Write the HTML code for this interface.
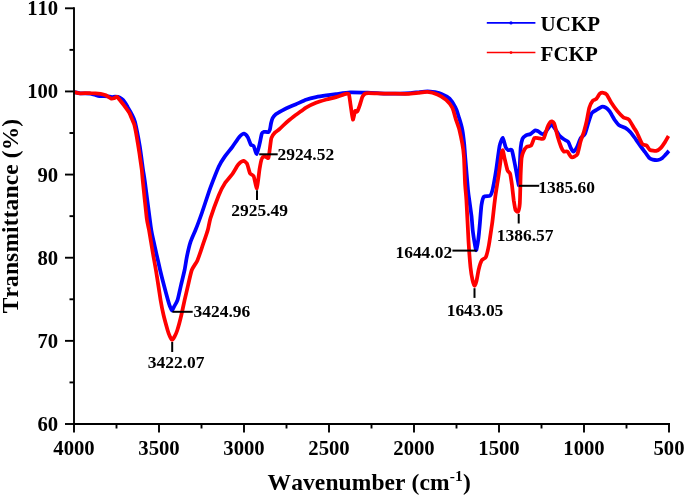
<!DOCTYPE html>
<html><head><meta charset="utf-8"><title>FTIR</title>
<style>
html,body{margin:0;padding:0;background:#fff;}
svg{display:block;font-family:"Liberation Serif",serif;font-weight:bold;fill:#000;font-kerning:none;}
.ax line{stroke:#000;stroke-width:1.9;stroke-linecap:butt;}
.tl text{font-size:20.7px;}
.an text{font-size:17.45px;}
.an line{stroke:#000;stroke-width:2;}
.cv path{fill:none;stroke-width:3.75;stroke-linejoin:round;stroke-linecap:butt;}
</style></head><body>
<svg width="685" height="496" viewBox="0 0 685 496">
<rect width="685" height="496" fill="#fff"/>
<g class="cv">
<path d="M74.1 92.1 C74.7 92.2 78.6 93.1 80.2 93.3 C81.8 93.5 88.8 93.4 90.4 93.6 C92.0 93.8 95.1 94.9 96.0 95.2 C96.9 95.5 98.8 96.1 99.6 96.2 C100.4 96.3 103.2 96.0 104.0 96.0 C104.8 96.0 107.2 96.2 108.0 96.3 C108.8 96.4 111.2 97.0 111.9 97.0 C112.6 97.0 114.4 96.6 115.0 96.6 C115.6 96.6 117.3 96.6 118.0 96.8 C118.7 97.0 120.9 98.4 121.6 98.9 C122.3 99.4 124.1 101.2 124.7 102.0 C125.3 102.8 127.0 105.9 127.7 107.1 C128.4 108.3 130.8 112.2 131.5 113.7 C132.2 115.2 134.2 118.7 135.0 122.0 C135.8 125.3 139.0 141.6 139.8 146.3 C140.6 151.1 142.5 166.0 143.0 169.5 C143.5 173.0 144.1 175.8 144.8 181.1 C145.5 186.4 149.5 217.3 150.2 222.2 C150.8 227.1 151.0 228.2 151.3 230.0 C151.6 231.8 152.9 238.1 153.5 240.7 C154.1 243.2 156.1 252.6 156.8 255.5 C157.5 258.4 159.4 267.0 160.1 270.0 C160.8 273.0 163.1 282.1 163.9 285.1 C164.7 288.1 167.4 298.1 168.0 300.2 C168.6 302.3 169.5 305.3 169.9 306.3 C170.3 307.3 171.5 310.6 171.9 310.6 C172.3 310.6 173.7 307.3 174.3 306.3 C174.9 305.3 176.8 302.3 177.5 300.2 C178.2 298.1 180.3 288.1 181.0 285.1 C181.7 282.1 184.0 272.9 184.6 270.0 C185.2 267.1 186.3 259.5 186.9 256.6 C187.5 253.7 189.8 244.1 190.7 241.4 C191.6 238.7 194.3 232.9 195.5 230.0 C196.7 227.1 200.7 216.3 202.2 212.0 C203.7 207.7 208.8 191.8 210.5 187.3 C212.2 182.8 217.3 169.8 218.7 166.7 C220.1 163.6 223.5 158.4 224.9 156.4 C226.3 154.4 230.9 148.8 232.4 146.8 C233.9 144.8 238.5 137.8 239.7 136.5 C240.9 135.2 243.3 133.5 244.1 133.6 C244.9 133.7 247.1 136.1 247.8 137.2 C248.5 138.3 250.2 143.7 250.8 144.6 C251.4 145.5 253.1 145.1 253.7 146.1 C254.3 147.1 256.1 154.4 256.7 154.2 C257.3 154.0 259.1 146.0 259.6 143.9 C260.1 141.8 261.4 134.8 261.8 133.6 C262.2 132.4 263.3 132.0 264.0 131.8 C264.7 131.7 267.8 132.3 268.4 132.1 C269.0 131.9 269.6 130.6 269.9 129.7 C270.2 128.8 270.8 124.2 271.1 123.0 C271.4 121.8 272.1 119.1 272.6 118.2 C273.1 117.3 275.0 115.0 275.9 114.2 C276.8 113.4 280.7 111.3 282.0 110.6 C283.3 109.9 287.9 107.6 289.3 107.0 C290.7 106.4 294.3 104.9 296.0 104.2 C297.7 103.5 304.0 100.4 306.0 99.7 C308.0 99.0 314.0 97.5 316.0 97.1 C318.0 96.7 324.3 95.7 326.3 95.4 C328.3 95.1 333.6 94.4 336.0 94.1 C338.4 93.8 347.0 92.5 350.2 92.4 C353.4 92.3 364.2 92.6 367.7 92.7 C371.2 92.8 381.8 93.5 385.0 93.6 C388.2 93.7 397.5 93.7 400.0 93.7 C402.5 93.7 408.0 93.4 410.0 93.2 C412.0 93.0 418.2 92.2 420.0 92.0 C421.8 91.8 426.0 91.4 427.5 91.4 C429.0 91.4 433.6 92.0 435.0 92.2 C436.4 92.5 440.0 93.3 441.5 93.9 C443.0 94.5 448.2 97.2 449.6 98.6 C451.0 100.0 454.9 106.2 455.8 108.1 C456.8 110.0 458.4 115.7 459.1 117.9 C459.8 120.1 461.9 127.4 462.4 130.0 C462.9 132.6 463.9 141.1 464.2 143.9 C464.5 146.7 464.9 153.4 465.3 158.0 C465.7 162.6 467.6 185.8 468.0 190.0 C468.4 194.2 468.9 197.4 469.3 200.0 C469.7 202.6 471.1 212.9 471.5 216.0 C471.9 219.1 472.4 227.6 472.8 231.0 C473.2 234.4 475.5 249.3 476.0 250.2 C476.5 251.1 477.8 242.8 478.2 240.0 C478.6 237.2 479.7 225.5 480.0 222.0 C480.3 218.5 481.1 207.5 481.5 205.0 C481.9 202.5 483.0 197.6 483.9 196.7 C484.8 195.8 489.1 196.5 490.0 195.8 C490.9 195.1 492.0 192.1 492.6 189.6 C493.2 187.1 495.4 174.8 496.1 170.4 C496.8 166.0 498.9 149.1 499.6 145.8 C500.3 142.6 502.2 137.7 502.8 137.9 C503.4 138.1 505.2 146.3 505.8 147.5 C506.4 148.7 507.8 149.9 508.4 150.2 C509.0 150.5 511.2 148.5 511.9 150.2 C512.6 151.9 514.7 163.3 515.4 166.8 C516.1 170.3 518.5 185.5 518.9 185.3 C519.3 185.1 519.6 168.9 519.8 165.1 C520.0 161.3 520.4 150.1 520.7 147.5 C521.0 144.9 522.0 140.0 522.5 138.8 C523.0 137.6 525.2 135.8 526.0 135.3 C526.8 134.8 529.6 134.5 530.5 134.0 C531.4 133.5 534.1 130.8 534.9 130.5 C535.7 130.2 537.7 131.1 538.4 131.4 C539.1 131.8 541.2 133.9 541.9 134.0 C542.6 134.1 544.6 133.1 545.4 132.3 C546.2 131.5 549.2 126.9 549.8 126.1 C550.4 125.3 551.1 124.1 551.6 124.4 C552.1 124.7 554.3 127.7 555.1 128.8 C555.9 129.9 558.6 134.8 559.5 135.8 C560.4 136.9 563.0 138.7 563.9 139.3 C564.8 139.9 567.5 141.0 568.2 141.9 C568.9 142.8 570.4 147.1 570.9 148.1 C571.4 149.1 572.9 151.7 573.5 151.6 C574.1 151.5 576.3 148.5 577.0 147.2 C577.7 145.9 579.7 139.7 580.5 138.4 C581.3 137.1 584.1 135.6 584.9 134.0 C585.7 132.4 587.7 124.7 588.4 122.6 C589.1 120.5 591.0 114.3 591.9 113.0 C592.8 111.7 596.2 110.1 597.2 109.5 C598.2 108.9 600.7 107.0 601.6 106.8 C602.5 106.6 605.2 107.3 606.0 107.7 C606.8 108.1 608.6 110.0 609.5 111.2 C610.4 112.4 613.7 118.6 614.7 120.0 C615.7 121.4 618.0 124.5 619.1 125.3 C620.2 126.1 624.2 127.2 625.3 127.9 C626.4 128.6 629.5 131.2 630.5 132.3 C631.5 133.4 634.8 138.0 635.8 139.3 C636.8 140.6 639.1 144.2 640.0 145.4 C640.9 146.7 643.9 150.6 644.8 151.8 C645.7 153.1 648.4 157.1 649.2 157.9 C650.0 158.7 651.8 159.4 652.7 159.6 C653.6 159.8 657.0 160.2 658.0 160.0 C659.0 159.8 661.6 158.5 662.4 157.9 C663.2 157.3 665.2 155.1 665.9 154.4 C666.5 153.7 668.6 151.2 668.9 150.9" stroke="#0000ff"/>
<path d="M74.1 92.1 C74.7 92.2 78.6 93.2 80.2 93.3 C81.8 93.4 88.4 93.0 90.4 93.1 C92.5 93.1 99.2 93.6 100.7 93.8 C102.2 94.0 104.8 94.8 105.8 95.3 C106.8 95.8 110.1 98.1 110.9 98.4 C111.7 98.7 113.3 98.4 113.9 98.2 C114.5 98.0 116.4 96.7 117.0 96.9 C117.6 97.1 119.4 99.5 120.1 100.4 C120.8 101.3 123.3 104.3 124.2 105.5 C125.1 106.7 128.5 111.3 129.3 112.7 C130.1 114.1 131.8 118.7 132.3 119.9 C132.8 121.1 133.9 123.0 134.4 125.0 C134.9 127.0 136.8 137.1 137.3 140.2 C137.8 143.3 139.4 153.0 139.8 156.0 C140.2 159.0 141.5 167.5 141.8 170.0 C142.1 172.5 142.3 176.3 142.8 181.1 C143.3 185.9 146.1 213.2 146.7 218.1 C147.3 223.0 148.6 227.7 149.0 230.0 C149.4 232.3 150.4 238.2 150.8 240.7 C151.2 243.2 152.7 252.1 153.2 255.0 C153.7 257.9 155.4 267.0 155.9 270.0 C156.4 273.0 157.8 282.1 158.3 285.1 C158.8 288.1 160.1 297.2 160.6 300.2 C161.1 303.2 162.9 312.3 163.6 315.3 C164.3 318.3 167.1 328.4 167.7 330.5 C168.3 332.6 169.5 335.6 169.9 336.5 C170.3 337.4 171.7 339.9 172.2 339.9 C172.7 339.9 174.1 337.4 174.6 336.5 C175.1 335.6 176.5 332.6 177.2 330.5 C177.9 328.4 180.6 318.3 181.3 315.3 C182.0 312.3 183.9 303.2 184.6 300.2 C185.3 297.2 187.4 288.1 188.1 285.1 C188.8 282.1 190.9 272.5 191.8 270.0 C192.7 267.5 196.4 262.7 197.4 260.4 C198.4 258.1 201.1 250.1 202.1 247.1 C203.1 244.1 207.0 232.9 207.8 230.0 C208.6 227.1 209.4 221.5 210.5 218.1 C211.6 214.7 217.3 199.0 218.7 195.5 C220.1 192.0 223.5 185.3 224.9 183.2 C226.3 181.0 231.1 175.9 232.4 174.0 C233.7 172.1 237.2 165.8 238.3 164.5 C239.4 163.2 242.5 160.9 243.4 160.8 C244.3 160.7 246.4 162.6 247.1 163.8 C247.8 165.1 249.3 172.1 250.0 173.3 C250.7 174.6 253.0 174.8 253.7 176.3 C254.4 177.8 256.3 188.9 256.9 188.2 C257.5 187.5 259.1 171.9 259.6 168.9 C260.1 165.9 261.3 159.8 261.8 158.6 C262.3 157.3 264.1 156.5 264.8 156.4 C265.5 156.3 267.9 158.7 268.4 157.9 C268.9 157.1 269.6 150.3 269.9 148.3 C270.2 146.3 270.9 139.6 271.4 138.0 C271.9 136.4 274.3 133.2 275.1 132.4 C275.9 131.6 278.2 130.2 279.0 129.5 C279.8 128.8 282.2 126.5 283.2 125.5 C284.2 124.5 288.1 121.0 289.3 120.0 C290.5 119.0 294.0 116.1 295.3 115.2 C296.6 114.3 300.9 111.4 302.0 110.6 C303.1 109.8 304.6 108.4 306.0 107.6 C307.4 106.8 314.0 103.6 316.0 102.8 C318.0 102.0 324.3 100.1 326.3 99.5 C328.3 98.9 334.0 97.7 336.0 97.1 C338.0 96.5 345.4 94.0 346.7 93.7 C348.0 93.5 348.6 93.5 349.0 94.6 C349.4 95.7 350.2 102.6 350.6 105.1 C351.0 107.6 352.4 119.0 352.9 119.6 C353.3 120.2 354.7 111.8 355.1 111.0 C355.5 110.2 356.7 112.2 357.2 111.6 C357.7 111.0 359.3 106.6 359.8 105.1 C360.3 103.6 361.9 97.8 362.5 96.6 C363.1 95.4 364.4 93.6 366.0 93.3 C367.6 93.0 375.6 93.4 378.0 93.4 C380.4 93.4 387.1 93.7 390.0 93.7 C392.9 93.7 404.7 93.9 407.5 93.8 C410.3 93.7 416.0 93.0 418.0 92.8 C420.0 92.6 425.6 91.7 427.5 91.9 C429.4 92.1 435.5 93.7 437.4 94.5 C439.3 95.3 444.6 98.5 446.1 99.8 C447.6 101.1 451.3 105.8 452.3 107.7 C453.3 109.6 455.1 116.9 455.8 119.1 C456.5 121.3 458.7 127.1 459.3 129.6 C459.9 132.1 461.8 141.0 462.3 143.7 C462.8 146.4 463.6 152.4 463.9 156.3 C464.2 160.2 464.8 178.2 465.0 182.6 C465.2 187.0 466.0 194.2 466.4 200.0 C466.8 205.8 468.1 234.2 468.5 240.9 C468.9 247.6 470.1 263.5 470.5 267.4 C470.9 271.3 472.1 278.2 472.5 280.0 C472.9 281.8 474.2 285.7 474.6 285.8 C475.0 285.9 476.1 282.6 476.5 281.0 C476.9 279.4 478.2 271.6 478.7 269.5 C479.2 267.4 481.1 261.5 481.8 260.3 C482.5 259.1 485.1 258.7 485.8 257.2 C486.5 255.7 488.3 248.3 488.9 245.0 C489.5 241.7 491.5 227.8 492.0 224.5 C492.5 221.2 493.2 214.8 493.5 212.0 C493.8 209.2 494.8 200.5 495.3 196.7 C495.8 192.9 498.2 178.1 498.8 173.9 C499.4 169.7 501.0 157.0 501.4 154.6 C501.8 152.2 502.4 149.7 502.8 150.2 C503.2 150.7 504.4 157.8 504.9 159.8 C505.4 161.8 507.0 169.0 507.5 170.4 C508.0 171.8 509.8 172.5 510.2 173.9 C510.6 175.3 511.5 181.8 511.9 184.4 C512.2 187.0 513.4 197.7 513.7 200.2 C514.1 202.7 515.0 208.7 515.4 209.8 C515.8 210.9 517.7 212.2 518.1 211.6 C518.5 211.0 519.5 207.5 519.8 203.7 C520.1 199.9 520.5 178.5 520.7 173.9 C520.9 169.3 521.3 160.3 521.6 158.1 C521.9 155.9 522.8 153.0 523.3 151.9 C523.8 150.8 526.0 147.3 526.8 146.7 C527.6 146.1 530.4 146.5 531.2 145.6 C532.0 144.7 533.6 138.7 534.4 138.0 C535.2 137.3 538.4 138.4 539.3 138.4 C540.2 138.4 542.9 139.5 543.7 138.4 C544.5 137.3 546.6 129.5 547.2 127.9 C547.8 126.3 549.3 123.2 549.8 122.6 C550.3 121.9 551.5 121.3 551.9 121.4 C552.3 121.5 553.6 122.0 554.2 123.5 C554.8 125.0 557.0 134.3 557.7 136.7 C558.4 139.1 560.6 145.7 561.2 147.2 C561.8 148.7 563.3 151.2 563.9 151.6 C564.5 152.0 566.7 151.0 567.4 151.5 C568.1 152.0 570.4 156.5 571.1 157.0 C571.8 157.5 574.0 156.8 574.6 156.5 C575.2 156.2 576.9 155.5 577.5 154.0 C578.1 152.5 579.9 144.2 580.5 141.9 C581.1 139.6 583.4 133.5 584.0 131.4 C584.6 129.3 586.2 123.3 586.7 120.9 C587.2 118.5 588.7 109.7 589.3 107.7 C589.9 105.7 592.1 101.6 592.8 100.7 C593.5 99.8 595.6 99.6 596.3 98.9 C597.0 98.2 599.1 94.3 599.8 93.7 C600.5 93.1 602.6 92.7 603.3 92.8 C604.0 92.9 606.0 93.6 606.8 94.6 C607.6 95.6 610.1 100.8 611.2 102.5 C612.3 104.2 616.2 109.7 617.4 111.2 C618.6 112.7 622.4 116.6 623.5 117.4 C624.6 118.2 627.8 118.5 628.8 119.5 C629.8 120.5 633.2 126.6 634.0 127.9 C634.8 129.2 636.1 130.9 636.9 132.5 C637.7 134.1 641.2 142.6 642.2 143.9 C643.2 145.2 645.8 145.0 646.6 145.6 C647.4 146.2 649.1 149.5 650.1 150.0 C651.1 150.5 655.2 151.1 656.2 150.9 C657.2 150.7 659.7 149.1 660.6 148.2 C661.5 147.3 664.2 143.3 665.0 142.1 C665.8 140.9 668.1 136.6 668.5 136.0" stroke="#ff0000"/>
</g>
<g class="ax">
<line x1="74.0" y1="7.300000000000001" x2="74.0" y2="425.0"/>
<line x1="73.0" y1="424.0" x2="670.0" y2="424.0"/>
<line x1="74.00" y1="424.0" x2="74.00" y2="432.5"/>
<line x1="116.50" y1="424.0" x2="116.50" y2="428.5"/>
<line x1="159.00" y1="424.0" x2="159.00" y2="432.5"/>
<line x1="201.50" y1="424.0" x2="201.50" y2="428.5"/>
<line x1="244.00" y1="424.0" x2="244.00" y2="432.5"/>
<line x1="286.50" y1="424.0" x2="286.50" y2="428.5"/>
<line x1="329.00" y1="424.0" x2="329.00" y2="432.5"/>
<line x1="371.50" y1="424.0" x2="371.50" y2="428.5"/>
<line x1="414.00" y1="424.0" x2="414.00" y2="432.5"/>
<line x1="456.50" y1="424.0" x2="456.50" y2="428.5"/>
<line x1="499.00" y1="424.0" x2="499.00" y2="432.5"/>
<line x1="541.50" y1="424.0" x2="541.50" y2="428.5"/>
<line x1="584.00" y1="424.0" x2="584.00" y2="432.5"/>
<line x1="626.50" y1="424.0" x2="626.50" y2="428.5"/>
<line x1="669.00" y1="424.0" x2="669.00" y2="432.5"/>
<line x1="74.0" y1="8.30" x2="65.0" y2="8.30"/>
<line x1="74.0" y1="49.87" x2="69.5" y2="49.87"/>
<line x1="74.0" y1="91.44" x2="65.0" y2="91.44"/>
<line x1="74.0" y1="133.01" x2="69.5" y2="133.01"/>
<line x1="74.0" y1="174.58" x2="65.0" y2="174.58"/>
<line x1="74.0" y1="216.15" x2="69.5" y2="216.15"/>
<line x1="74.0" y1="257.72" x2="65.0" y2="257.72"/>
<line x1="74.0" y1="299.29" x2="69.5" y2="299.29"/>
<line x1="74.0" y1="340.86" x2="65.0" y2="340.86"/>
<line x1="74.0" y1="382.43" x2="69.5" y2="382.43"/>
<line x1="74.0" y1="424.00" x2="65.0" y2="424.00"/>
</g>
<g class="tl">
<text x="74.0" y="455.2" text-anchor="middle">4000</text>
<text x="159.0" y="455.2" text-anchor="middle">3500</text>
<text x="244.0" y="455.2" text-anchor="middle">3000</text>
<text x="329.0" y="455.2" text-anchor="middle">2500</text>
<text x="414.0" y="455.2" text-anchor="middle">2000</text>
<text x="499.0" y="455.2" text-anchor="middle">1500</text>
<text x="584.0" y="455.2" text-anchor="middle">1000</text>
<text x="669.0" y="455.2" text-anchor="middle">500</text>
<text x="58.2" y="15.2" text-anchor="end">110</text>
<text x="58.2" y="98.3" text-anchor="end">100</text>
<text x="58.2" y="181.5" text-anchor="end">90</text>
<text x="58.2" y="264.6" text-anchor="end">80</text>
<text x="58.2" y="347.8" text-anchor="end">70</text>
<text x="58.2" y="430.9" text-anchor="end">60</text>
</g>
<g class="an">
<line x1="172.4" y1="311.8" x2="192.7" y2="311.8"/>
<line x1="172.2" y1="342.0" x2="172.2" y2="352.0"/>
<line x1="259.2" y1="154.3" x2="277.7" y2="154.3"/>
<line x1="257.0" y1="190.2" x2="257.0" y2="199.9"/>
<line x1="452.4" y1="250.6" x2="476.7" y2="250.6"/>
<line x1="474.5" y1="288.2" x2="474.5" y2="297.9"/>
<line x1="518.7" y1="213.9" x2="518.7" y2="223.5"/>
<line x1="519.0" y1="185.8" x2="539.2" y2="185.8"/>
<text x="221.85" y="317.4" text-anchor="middle">3424.96</text>
<text x="176.1" y="367.8" text-anchor="middle">3422.07</text>
<text x="305.8" y="160.2" text-anchor="middle">2924.52</text>
<text x="259.6" y="216.2" text-anchor="middle">2925.49</text>
<text x="423.8" y="257.9" text-anchor="middle">1644.02</text>
<text x="475.0" y="315.8" text-anchor="middle">1643.05</text>
<text x="525.1" y="241.3" text-anchor="middle">1386.57</text>
<text x="566.6" y="192.9" text-anchor="middle">1385.60</text>
</g>
<g>
<line x1="486.8" y1="22.9" x2="535.4" y2="22.9" stroke="#0000ff" stroke-width="1.7"/>
<circle cx="511" cy="22.9" r="1.6" fill="#0000ff"/>
<line x1="486.8" y1="52.6" x2="535.4" y2="52.6" stroke="#ff0000" stroke-width="1.5"/>
<circle cx="511" cy="52.6" r="1.4" fill="#ff0000"/>
<text x="540.6" y="31.1" font-size="21px">UCKP</text>
<text x="540.6" y="60.7" font-size="21px">FCKP</text>
</g>
<text id="xt" x="369.2" y="489.6" font-size="23.5px" letter-spacing="0.1" text-anchor="middle">Wavenumber (cm<tspan font-size="15.5px" dy="-8.5">-1</tspan><tspan dy="8.5">)</tspan></text>
<text id="yt" transform="translate(17.5 216) rotate(-90)" font-size="23.5px" letter-spacing="0.12" text-anchor="middle">Transmittance (%)</text>
</svg>
</body></html>
